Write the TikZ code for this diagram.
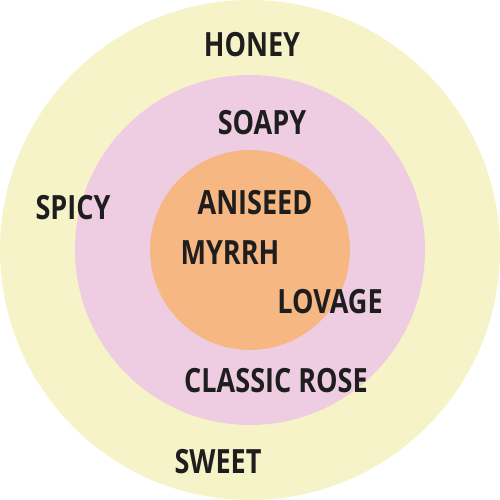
\documentclass[tikz,border=0pt]{standalone}
\usepackage{fontspec}
\newfontfamily\labelfont[FakeStretch=0.81]{Open Sans}
\usetikzlibrary{positioning}
\definecolor{Honey}{HTML}{F7F3C8}
\definecolor{Soapy}{HTML}{EECDE3}
\definecolor{Core}{HTML}{F7B783}
\definecolor{Ink}{HTML}{1E1E1E}
\tikzset{
  scent/.style={text=Ink,font=\labelfont\bfseries\fontsize{19}{22}\selectfont,inner sep=0pt}
}
\begin{document}
\begin{tikzpicture}
        \useasboundingbox (-5,-5) rectangle (5,5);
        \fill[Honey] (0,0) circle (5);
        \fill[Soapy] (0,0) circle (3.5);
        \fill[Core] (0,0) circle (2);
        \node[scent] (honey) at (0.04,4.1) {HONEY};
        \node[scent] (soapy) at (0.24,2.54) {SOAPY};
        \node[scent] (spicy) at (-3.54,0.84) {SPICY};
        \node[scent] (aniseed) at (0.1,0.94) {ANISEED};
        \node[scent] (myrrh) at (-0.4,-0.06) {MYRRH};
        \node[scent] (lovage) at (1.6,-1.04) {LOVAGE};
        \node[scent] (rose) at (0.52,-2.62) {CLASSIC ROSE};
        \node[scent] (sweet) at (-0.64,-4.24) {SWEET};
      \end{tikzpicture}
\end{document}
